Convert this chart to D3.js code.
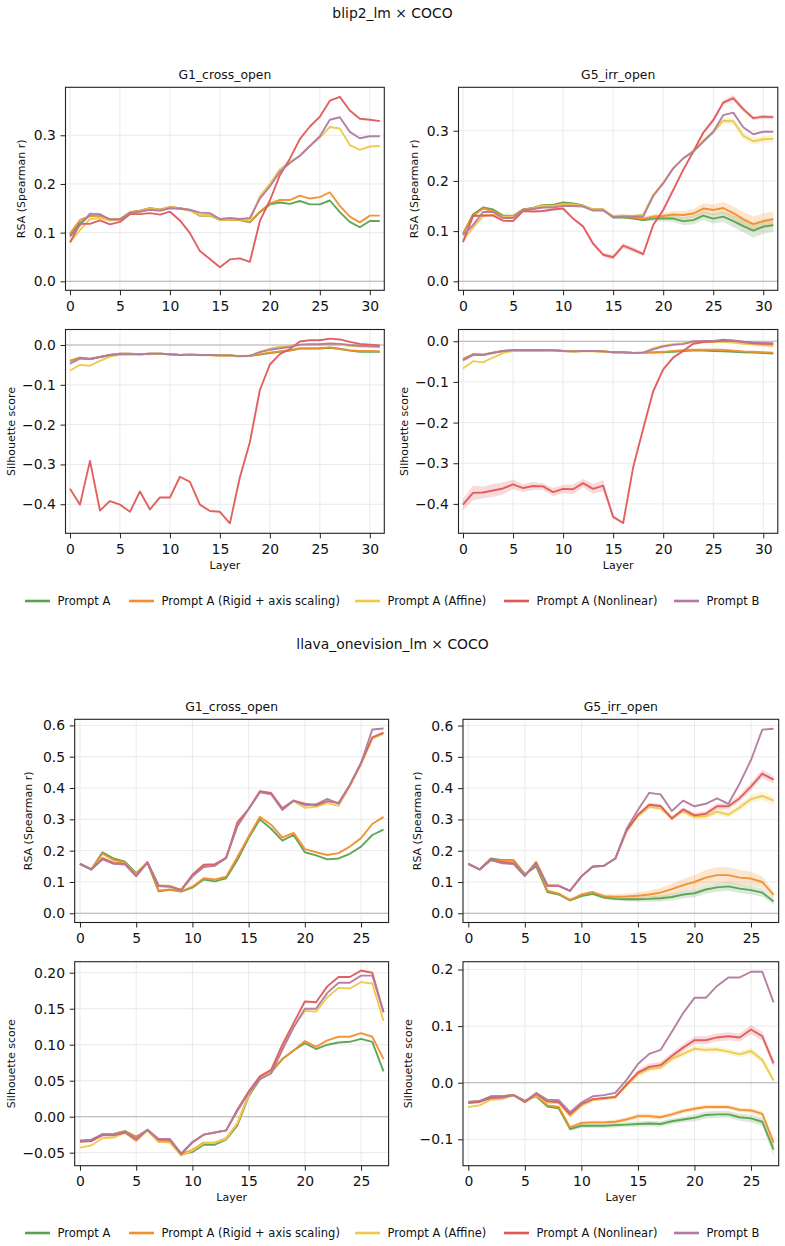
<!DOCTYPE html>
<html>
<head>
<meta charset="utf-8">
<script src="https://cdn.jsdelivr.net/npm/d3@7"></script>
<style>
  body { margin: 0; background: #fff; }
  svg text { font-family: "DejaVu Sans", sans-serif; fill: #111; }
</style>
</head>
<body>
<div id="chart"></div>
<script>
/* DATA */
const seriesNames = ["Prompt A", "Prompt A (Rigid + axis scaling)", "Prompt A (Affine)", "Prompt A (Nonlinear)", "Prompt B"];
const seriesColors = ["#59a14f", "#f28e2b", "#edc948", "#e15759", "#b07aa1"];

// blip2_lm, G1_cross_open, RSA
const blipG1RsaA      = [0.095,0.120,0.135,0.135,0.127,0.127,0.142,0.145,0.150,0.147,0.152,0.150,0.146,0.135,0.135,0.126,0.126,0.126,0.121,0.142,0.158,0.162,0.159,0.165,0.158,0.158,0.166,0.142,0.122,0.111,0.124,0.124];
const blipG1RsaRigid  = [0.098,0.126,0.134,0.135,0.127,0.128,0.142,0.145,0.150,0.147,0.153,0.150,0.146,0.135,0.136,0.127,0.126,0.127,0.122,0.143,0.160,0.167,0.167,0.176,0.170,0.173,0.183,0.155,0.133,0.121,0.135,0.135];
const blipG1RsaAffine = [0.080,0.105,0.128,0.130,0.125,0.127,0.140,0.144,0.150,0.146,0.152,0.149,0.145,0.136,0.136,0.126,0.127,0.127,0.125,0.175,0.200,0.230,0.245,0.258,0.278,0.295,0.317,0.314,0.280,0.270,0.277,0.278];
const blipG1RsaNonlin = [0.080,0.118,0.118,0.125,0.117,0.122,0.138,0.138,0.140,0.137,0.143,0.125,0.099,0.062,0.046,0.029,0.045,0.047,0.040,0.124,0.166,0.218,0.252,0.292,0.318,0.338,0.371,0.379,0.351,0.334,0.332,0.329];
const blipG1RsaB      = [0.092,0.115,0.139,0.138,0.127,0.127,0.140,0.143,0.147,0.145,0.150,0.149,0.147,0.141,0.140,0.128,0.130,0.128,0.130,0.170,0.195,0.225,0.243,0.258,0.278,0.298,0.332,0.337,0.307,0.294,0.298,0.298];

// blip2_lm, G5_irr_open, RSA
const blipG5RsaA      = [0.095,0.133,0.147,0.143,0.131,0.130,0.143,0.146,0.152,0.152,0.157,0.155,0.151,0.143,0.143,0.127,0.127,0.125,0.122,0.125,0.125,0.125,0.120,0.122,0.131,0.125,0.129,0.120,0.110,0.101,0.109,0.112];
const blipG5RsaRigid  = [0.095,0.130,0.145,0.140,0.130,0.130,0.143,0.145,0.150,0.150,0.155,0.153,0.150,0.143,0.143,0.128,0.128,0.127,0.125,0.129,0.130,0.133,0.132,0.135,0.145,0.142,0.146,0.136,0.124,0.114,0.120,0.124];
const blipG5RsaAffine = [0.082,0.107,0.130,0.133,0.128,0.128,0.141,0.145,0.151,0.150,0.153,0.153,0.150,0.143,0.143,0.130,0.131,0.130,0.133,0.172,0.197,0.225,0.245,0.260,0.280,0.297,0.320,0.319,0.290,0.279,0.283,0.284];
const blipG5RsaNonlin = [0.078,0.130,0.131,0.131,0.121,0.120,0.140,0.139,0.140,0.143,0.145,0.125,0.109,0.075,0.053,0.048,0.071,0.063,0.054,0.112,0.142,0.182,0.222,0.258,0.296,0.321,0.356,0.365,0.343,0.325,0.328,0.327];
const blipG5RsaB      = [0.092,0.112,0.138,0.138,0.126,0.126,0.142,0.144,0.147,0.147,0.150,0.150,0.149,0.141,0.141,0.128,0.129,0.129,0.129,0.170,0.195,0.225,0.245,0.258,0.278,0.298,0.331,0.336,0.307,0.293,0.298,0.298];
const blipG5RsaSdA      = [0.002,0.002,0.002,0.002,0.002,0.002,0.002,0.002,0.002,0.002,0.002,0.002,0.002,0.002,0.002,0.002,0.002,0.002,0.002,0.005,0.006,0.007,0.008,0.009,0.009,0.010,0.011,0.012,0.013,0.014,0.014,0.014];
const blipG5RsaSdRigid  = [0.002,0.002,0.002,0.002,0.002,0.002,0.002,0.002,0.002,0.002,0.002,0.002,0.002,0.002,0.002,0.002,0.002,0.002,0.002,0.005,0.006,0.007,0.008,0.009,0.010,0.011,0.012,0.013,0.014,0.015,0.015,0.015];
const blipG5RsaSdAffine = [0.002,0.002,0.002,0.002,0.002,0.002,0.002,0.002,0.002,0.002,0.002,0.002,0.002,0.002,0.002,0.002,0.002,0.002,0.002,0.002,0.002,0.002,0.002,0.002,0.004,0.005,0.006,0.007,0.007,0.007,0.007,0.007];
const blipG5RsaSdNonlin = [0.002,0.002,0.002,0.002,0.002,0.002,0.002,0.002,0.002,0.002,0.002,0.002,0.003,0.004,0.004,0.005,0.005,0.005,0.004,0.003,0.003,0.003,0.003,0.003,0.004,0.005,0.005,0.006,0.005,0.004,0.004,0.004];

// blip2_lm, G1_cross_open, silhouette
const blipG1SilA      = [-0.040,-0.032,-0.035,-0.030,-0.025,-0.022,-0.022,-0.023,-0.022,-0.022,-0.023,-0.025,-0.024,-0.025,-0.025,-0.026,-0.026,-0.028,-0.027,-0.024,-0.020,-0.017,-0.014,-0.009,-0.009,-0.009,-0.007,-0.010,-0.014,-0.017,-0.017,-0.017];
const blipG1SilRigid  = [-0.040,-0.032,-0.035,-0.030,-0.025,-0.022,-0.022,-0.023,-0.022,-0.022,-0.023,-0.025,-0.024,-0.025,-0.025,-0.026,-0.026,-0.028,-0.027,-0.023,-0.019,-0.016,-0.013,-0.008,-0.008,-0.008,-0.006,-0.009,-0.013,-0.015,-0.015,-0.016];
const blipG1SilAffine = [-0.064,-0.050,-0.052,-0.040,-0.029,-0.024,-0.023,-0.023,-0.023,-0.022,-0.023,-0.025,-0.024,-0.026,-0.026,-0.027,-0.027,-0.029,-0.028,-0.017,-0.009,-0.004,-0.002,0.000,0.001,0.001,0.002,0.001,-0.002,-0.004,-0.004,-0.005];
const blipG1SilNonlin = [-0.361,-0.401,-0.291,-0.416,-0.392,-0.401,-0.419,-0.368,-0.413,-0.383,-0.383,-0.331,-0.344,-0.401,-0.417,-0.419,-0.448,-0.332,-0.244,-0.113,-0.049,-0.023,-0.010,0.009,0.012,0.012,0.016,0.014,0.008,0.003,0.001,-0.001];
const blipG1SilB      = [-0.047,-0.034,-0.035,-0.030,-0.025,-0.023,-0.023,-0.023,-0.022,-0.022,-0.023,-0.025,-0.024,-0.025,-0.025,-0.026,-0.026,-0.028,-0.027,-0.018,-0.012,-0.008,-0.005,0.001,0.002,0.002,0.004,0.003,0.000,-0.002,-0.003,-0.004];

// blip2_lm, G5_irr_open, silhouette
const blipG5SilA      = [-0.044,-0.032,-0.033,-0.028,-0.024,-0.022,-0.022,-0.022,-0.022,-0.022,-0.024,-0.025,-0.024,-0.024,-0.025,-0.027,-0.027,-0.029,-0.028,-0.028,-0.027,-0.026,-0.024,-0.023,-0.023,-0.024,-0.025,-0.026,-0.027,-0.028,-0.029,-0.030];
const blipG5SilRigid  = [-0.044,-0.032,-0.033,-0.028,-0.024,-0.022,-0.022,-0.022,-0.022,-0.022,-0.024,-0.025,-0.024,-0.024,-0.025,-0.027,-0.027,-0.029,-0.028,-0.027,-0.026,-0.024,-0.022,-0.021,-0.021,-0.021,-0.021,-0.023,-0.025,-0.026,-0.027,-0.028];
const blipG5SilAffine = [-0.067,-0.049,-0.052,-0.040,-0.029,-0.024,-0.023,-0.023,-0.023,-0.022,-0.024,-0.025,-0.024,-0.025,-0.026,-0.027,-0.027,-0.029,-0.028,-0.017,-0.011,-0.007,-0.005,-0.002,-0.002,-0.002,-0.002,-0.003,-0.006,-0.008,-0.010,-0.012];
const blipG5SilNonlin = [-0.402,-0.373,-0.372,-0.367,-0.362,-0.352,-0.361,-0.356,-0.357,-0.371,-0.363,-0.364,-0.349,-0.363,-0.355,-0.432,-0.447,-0.310,-0.215,-0.123,-0.069,-0.040,-0.024,-0.006,-0.002,-0.001,0.002,0.001,-0.002,-0.005,-0.006,-0.007];
const blipG5SilB      = [-0.047,-0.034,-0.034,-0.029,-0.024,-0.022,-0.022,-0.022,-0.022,-0.022,-0.024,-0.025,-0.024,-0.024,-0.025,-0.027,-0.027,-0.029,-0.028,-0.020,-0.013,-0.009,-0.007,0.000,0.001,0.001,0.004,0.002,-0.001,-0.003,-0.004,-0.005];
const blipG5SilSdNonlin = [0.014,0.018,0.014,0.016,0.015,0.012,0.010,0.010,0.008,0.010,0.010,0.012,0.010,0.012,0.014,0.004,0.003,0.003,0.003,0.003,0.003,0.003,0.003,0.003,0.003,0.003,0.003,0.003,0.003,0.003,0.003,0.003];

// llava_onevision_lm, G1_cross_open, RSA
const llavaG1RsaA      = [0.158,0.140,0.195,0.175,0.165,0.128,0.162,0.070,0.075,0.069,0.082,0.108,0.102,0.112,0.170,0.240,0.300,0.270,0.232,0.250,0.195,0.185,0.172,0.175,0.190,0.213,0.250,0.267];
const llavaG1RsaRigid  = [0.158,0.140,0.190,0.170,0.162,0.125,0.163,0.073,0.076,0.070,0.085,0.112,0.108,0.117,0.180,0.245,0.308,0.283,0.242,0.257,0.205,0.195,0.186,0.192,0.213,0.240,0.285,0.308];
const llavaG1RsaAffine = [0.158,0.140,0.178,0.162,0.160,0.122,0.163,0.090,0.088,0.075,0.118,0.150,0.153,0.177,0.280,0.333,0.388,0.382,0.332,0.358,0.337,0.340,0.352,0.343,0.405,0.475,0.558,0.573];
const llavaG1RsaNonlin = [0.158,0.140,0.175,0.160,0.158,0.120,0.163,0.087,0.085,0.075,0.123,0.155,0.157,0.177,0.290,0.333,0.390,0.384,0.335,0.360,0.350,0.345,0.358,0.352,0.410,0.480,0.562,0.577];
const llavaG1RsaB      = [0.158,0.140,0.172,0.158,0.156,0.118,0.162,0.087,0.085,0.073,0.118,0.148,0.152,0.177,0.278,0.333,0.386,0.380,0.330,0.360,0.345,0.348,0.365,0.350,0.410,0.480,0.587,0.590];

// llava_onevision_lm, G5_irr_open, RSA
const llavaG5RsaA      = [0.158,0.140,0.175,0.170,0.170,0.125,0.150,0.068,0.060,0.041,0.055,0.062,0.050,0.046,0.045,0.045,0.046,0.048,0.052,0.060,0.064,0.076,0.083,0.086,0.079,0.074,0.066,0.038];
const llavaG5RsaRigid  = [0.158,0.140,0.172,0.168,0.168,0.122,0.158,0.072,0.063,0.043,0.060,0.068,0.055,0.053,0.054,0.056,0.060,0.066,0.077,0.090,0.100,0.114,0.122,0.122,0.114,0.111,0.100,0.059];
const llavaG5RsaAffine = [0.158,0.140,0.170,0.162,0.160,0.120,0.165,0.090,0.088,0.072,0.118,0.150,0.152,0.175,0.262,0.310,0.340,0.335,0.305,0.326,0.308,0.310,0.325,0.315,0.338,0.365,0.375,0.360];
const llavaG5RsaNonlin = [0.158,0.140,0.172,0.163,0.160,0.120,0.162,0.088,0.088,0.072,0.118,0.150,0.152,0.175,0.265,0.315,0.347,0.343,0.303,0.332,0.313,0.318,0.342,0.342,0.368,0.405,0.446,0.427];
const llavaG5RsaB      = [0.158,0.140,0.170,0.160,0.157,0.120,0.160,0.088,0.088,0.072,0.118,0.148,0.152,0.175,0.270,0.330,0.385,0.380,0.327,0.360,0.342,0.350,0.367,0.350,0.415,0.490,0.587,0.590];
const llavaG5RsaSdA      = [0.002,0.002,0.002,0.002,0.002,0.002,0.002,0.002,0.002,0.003,0.004,0.004,0.005,0.006,0.007,0.008,0.009,0.010,0.011,0.012,0.013,0.013,0.014,0.014,0.014,0.014,0.013,0.010];
const llavaG5RsaSdRigid  = [0.002,0.002,0.002,0.002,0.002,0.002,0.002,0.002,0.002,0.003,0.004,0.005,0.006,0.007,0.009,0.011,0.013,0.015,0.018,0.020,0.022,0.024,0.025,0.025,0.024,0.022,0.018,0.010];
const llavaG5RsaSdAffine = [0.002,0.002,0.002,0.002,0.002,0.002,0.002,0.002,0.002,0.002,0.002,0.002,0.002,0.002,0.004,0.005,0.006,0.006,0.007,0.008,0.008,0.009,0.010,0.010,0.011,0.012,0.013,0.012];
const llavaG5RsaSdNonlin = [0.002,0.002,0.002,0.002,0.002,0.002,0.002,0.002,0.002,0.002,0.002,0.002,0.002,0.002,0.004,0.005,0.006,0.006,0.007,0.007,0.008,0.009,0.010,0.010,0.011,0.012,0.013,0.012];

// llava_onevision_lm, G1_cross_open, silhouette
const llavaG1SilA      = [-0.034,-0.033,-0.024,-0.024,-0.020,-0.028,-0.019,-0.035,-0.035,-0.052,-0.049,-0.039,-0.039,-0.032,-0.012,0.028,0.052,0.062,0.080,0.092,0.102,0.094,0.100,0.103,0.104,0.108,0.104,0.063];
const llavaG1SilRigid  = [-0.034,-0.033,-0.024,-0.024,-0.020,-0.028,-0.019,-0.034,-0.034,-0.052,-0.046,-0.036,-0.036,-0.030,-0.010,0.030,0.054,0.062,0.080,0.092,0.105,0.097,0.106,0.111,0.111,0.116,0.111,0.080];
const llavaG1SilAffine = [-0.043,-0.040,-0.030,-0.029,-0.022,-0.034,-0.019,-0.035,-0.036,-0.054,-0.047,-0.037,-0.036,-0.031,-0.009,0.030,0.053,0.062,0.095,0.125,0.147,0.146,0.166,0.179,0.178,0.187,0.185,0.133];
const llavaG1SilNonlin = [-0.035,-0.034,-0.026,-0.026,-0.022,-0.032,-0.018,-0.032,-0.032,-0.052,-0.036,-0.025,-0.022,-0.019,0.010,0.035,0.056,0.065,0.100,0.130,0.160,0.159,0.181,0.194,0.194,0.203,0.200,0.145];
const llavaG1SilB      = [-0.033,-0.032,-0.025,-0.025,-0.021,-0.031,-0.018,-0.031,-0.031,-0.051,-0.035,-0.025,-0.022,-0.019,0.008,0.033,0.052,0.060,0.093,0.124,0.150,0.150,0.172,0.186,0.186,0.196,0.196,0.145];

// llava_onevision_lm, G5_irr_open, silhouette
const llavaG5SilA      = [-0.034,-0.033,-0.024,-0.024,-0.022,-0.032,-0.024,-0.042,-0.045,-0.082,-0.076,-0.076,-0.076,-0.075,-0.074,-0.073,-0.072,-0.073,-0.068,-0.065,-0.062,-0.057,-0.056,-0.056,-0.061,-0.063,-0.069,-0.118];
const llavaG5SilRigid  = [-0.034,-0.033,-0.024,-0.024,-0.022,-0.032,-0.022,-0.040,-0.043,-0.079,-0.071,-0.070,-0.070,-0.069,-0.065,-0.059,-0.059,-0.061,-0.056,-0.050,-0.046,-0.043,-0.043,-0.043,-0.048,-0.049,-0.055,-0.106];
const llavaG5SilAffine = [-0.043,-0.040,-0.030,-0.029,-0.022,-0.035,-0.022,-0.035,-0.036,-0.059,-0.041,-0.031,-0.029,-0.026,-0.005,0.015,0.025,0.027,0.042,0.051,0.060,0.058,0.059,0.055,0.050,0.056,0.040,0.004];
const llavaG5SilNonlin = [-0.036,-0.034,-0.027,-0.026,-0.022,-0.034,-0.020,-0.033,-0.034,-0.056,-0.038,-0.029,-0.027,-0.025,-0.003,0.018,0.028,0.031,0.047,0.062,0.075,0.075,0.080,0.082,0.080,0.094,0.082,0.034];
const llavaG5SilB      = [-0.034,-0.032,-0.025,-0.024,-0.022,-0.033,-0.018,-0.030,-0.031,-0.052,-0.035,-0.024,-0.022,-0.018,0.005,0.033,0.051,0.058,0.090,0.123,0.150,0.150,0.171,0.186,0.186,0.196,0.196,0.142];
const llavaG5SilSdA      = [0.001,0.001,0.001,0.001,0.001,0.001,0.001,0.001,0.001,0.003,0.004,0.004,0.004,0.004,0.004,0.005,0.005,0.005,0.005,0.005,0.006,0.006,0.006,0.006,0.006,0.007,0.007,0.012];
const llavaG5SilSdRigid  = [0.001,0.001,0.001,0.001,0.001,0.001,0.001,0.001,0.001,0.003,0.003,0.003,0.003,0.004,0.004,0.004,0.004,0.004,0.004,0.004,0.004,0.004,0.004,0.004,0.004,0.004,0.005,0.008];
const llavaG5SilSdAffine = [0.001,0.001,0.001,0.001,0.001,0.001,0.001,0.001,0.001,0.001,0.001,0.001,0.001,0.004,0.004,0.005,0.005,0.005,0.005,0.005,0.005,0.005,0.005,0.005,0.005,0.006,0.006,0.006];
const llavaG5SilSdNonlin = [0.001,0.001,0.001,0.001,0.001,0.001,0.001,0.001,0.001,0.001,0.001,0.001,0.001,0.001,0.004,0.005,0.006,0.006,0.006,0.006,0.007,0.007,0.007,0.007,0.007,0.008,0.008,0.007];

const xTicksBlip = [0, 5, 10, 15, 20, 25, 30];
const xTicksLlava = [0, 5, 10, 15, 20, 25];

/* LAYOUT */
const width = 785, height = 1246;
const svg = d3.select("#chart").append("svg")
  .attr("width", width).attr("height", height);

const figures = [
  { title: "blip2_lm × COCO", titleY: 17.5, legendY: 601 },
  { title: "llava_onevision_lm × COCO", titleY: 649, legendY: 1233 }
];

const panels = [
  { box: [65.5, 384.3, 87.3, 290.3], xdom: [-0.45, 31.45], ydom: [-0.0185, 0.3986], xt: xTicksBlip,
    yt: [0, 0.1, 0.2, 0.3], fmt: ".1f", title: "G1_cross_open", ylabel: "RSA (Spearman r)", ylabX: 24.5,
    series: [blipG1RsaA, blipG1RsaRigid, blipG1RsaAffine, blipG1RsaNonlin, blipG1RsaB] },
  { box: [458.5, 777.8, 87.3, 290.3], xdom: [-0.45, 31.45], ydom: [-0.0179, 0.3865], xt: xTicksBlip,
    yt: [0, 0.1, 0.2, 0.3], fmt: ".1f", title: "G5_irr_open", ylabel: "RSA (Spearman r)", ylabX: 417.8,
    series: [blipG5RsaA, blipG5RsaRigid, blipG5RsaAffine, blipG5RsaNonlin, blipG5RsaB],
    sd: [blipG5RsaSdA, blipG5RsaSdRigid, blipG5RsaSdAffine, blipG5RsaSdNonlin, null] },
  { box: [65.5, 384.3, 329.5, 533.3], xdom: [-0.45, 31.45], ydom: [-0.473, 0.039], xt: xTicksBlip,
    yt: [0, -0.1, -0.2, -0.3, -0.4], fmt: ".1f", ylabel: "Silhouette score", ylabX: 15, xlabel: "Layer",
    series: [blipG1SilA, blipG1SilRigid, blipG1SilAffine, blipG1SilNonlin, blipG1SilB] },
  { box: [458.5, 777.8, 329.5, 533.3], xdom: [-0.45, 31.45], ydom: [-0.4723, 0.0289], xt: xTicksBlip,
    yt: [0, -0.1, -0.2, -0.3, -0.4], fmt: ".1f", ylabel: "Silhouette score", ylabX: 408, xlabel: "Layer",
    series: [blipG5SilA, blipG5SilRigid, blipG5SilAffine, blipG5SilNonlin, blipG5SilB],
    sd: [null, null, null, blipG5SilSdNonlin, null] },
  { box: [74.7, 388.6, 719.3, 922.5], xdom: [-0.47, 27.45], ydom: [-0.0294, 0.6194], xt: xTicksLlava,
    yt: [0, 0.1, 0.2, 0.3, 0.4, 0.5, 0.6], fmt: ".1f", title: "G1_cross_open", ylabel: "RSA (Spearman r)", ylabX: 31.8,
    series: [llavaG1RsaA, llavaG1RsaRigid, llavaG1RsaAffine, llavaG1RsaNonlin, llavaG1RsaB] },
  { box: [463, 778.7, 719.3, 922.5], xdom: [-0.47, 27.45], ydom: [-0.0294, 0.620], xt: xTicksLlava,
    yt: [0, 0.1, 0.2, 0.3, 0.4, 0.5, 0.6], fmt: ".1f", title: "G5_irr_open", ylabel: "RSA (Spearman r)", ylabX: 421.2,
    series: [llavaG5RsaA, llavaG5RsaRigid, llavaG5RsaAffine, llavaG5RsaNonlin, llavaG5RsaB],
    sd: [llavaG5RsaSdA, llavaG5RsaSdRigid, llavaG5RsaSdAffine, llavaG5RsaSdNonlin, null] },
  { box: [74.7, 388.6, 961.7, 1165.7], xdom: [-0.47, 27.45], ydom: [-0.0681, 0.2153], xt: xTicksLlava,
    yt: [-0.05, 0, 0.05, 0.1, 0.15, 0.2], fmt: ".2f", ylabel: "Silhouette score", ylabX: 15, xlabel: "Layer",
    series: [llavaG1SilA, llavaG1SilRigid, llavaG1SilAffine, llavaG1SilNonlin, llavaG1SilB] },
  { box: [463, 778.7, 961.7, 1165.7], xdom: [-0.47, 27.45], ydom: [-0.1466, 0.2138], xt: xTicksLlava,
    yt: [-0.1, 0, 0.1, 0.2], fmt: ".1f", ylabel: "Silhouette score", ylabX: 412, xlabel: "Layer",
    series: [llavaG5SilA, llavaG5SilRigid, llavaG5SilAffine, llavaG5SilNonlin, llavaG5SilB],
    sd: [llavaG5SilSdA, llavaG5SilSdRigid, llavaG5SilSdAffine, llavaG5SilSdNonlin, null] }
];

// legend swatch positions
const legendX = [25, 129, 355, 504, 674];

/* TITLES + LEGENDS */
figures.forEach(f => {
  svg.append("text")
    .attr("x", 392.5).attr("y", f.titleY)
    .attr("text-anchor", "middle")
    .style("font-size", "13.9px")
    .text(f.title);

  const lg = svg.append("g");
  seriesNames.forEach((name, i) => {
    lg.append("line")
      .attr("x1", legendX[i]).attr("x2", legendX[i] + 25)
      .attr("y1", f.legendY).attr("y2", f.legendY)
      .attr("stroke", seriesColors[i]).attr("stroke-width", 2.6);
    lg.append("text")
      .attr("x", legendX[i] + 32.5).attr("y", f.legendY + 4.2)
      .style("font-size", "11.5px")
      .text(name);
  });
});

/* PANELS */
panels.forEach((p, k) => {
  const [x0, x1, y0, y1] = p.box;
  const x = d3.scaleLinear().domain(p.xdom).range([x0, x1]);
  const y = d3.scaleLinear().domain(p.ydom).range([y1, y0]);
  const g = svg.append("g");

  g.append("clipPath").attr("id", "clip" + k)
    .append("rect").attr("x", x0).attr("y", y0).attr("width", x1 - x0).attr("height", y1 - y0);

  // grid
  g.selectAll(".gx").data(p.xt).join("line")
    .attr("x1", d => x(d)).attr("x2", d => x(d)).attr("y1", y0).attr("y2", y1)
    .attr("stroke", "#e8e8e8").attr("stroke-width", 0.9);
  g.selectAll(".gy").data(p.yt).join("line")
    .attr("x1", x0).attr("x2", x1).attr("y1", d => y(d)).attr("y2", d => y(d))
    .attr("stroke", "#e8e8e8").attr("stroke-width", 0.9);

  // zero line
  g.append("line")
    .attr("x1", x0).attr("x2", x1).attr("y1", y(0)).attr("y2", y(0))
    .attr("stroke", "#b3b3b3").attr("stroke-width", 1.1);

  const plot = g.append("g").attr("clip-path", `url(#clip${k})`);

  // bands
  if (p.sd) {
    p.series.forEach((vals, i) => {
      const sd = p.sd[i];
      if (!sd) return;
      const area = d3.area()
        .x((d, j) => x(j))
        .y0((d, j) => y(d - sd[j]))
        .y1((d, j) => y(d + sd[j]));
      plot.append("path").datum(vals)
        .attr("d", area)
        .attr("fill", seriesColors[i]).attr("fill-opacity", 0.22);
    });
  }

  // lines
  const lineGen = d3.line().x((d, j) => x(j)).y(d => y(d));
  p.series.forEach((vals, i) => {
    plot.append("path").datum(vals)
      .attr("d", lineGen)
      .attr("fill", "none")
      .attr("stroke", seriesColors[i])
      .attr("stroke-width", 1.9)
      .attr("stroke-opacity", 0.95)
      .attr("stroke-linejoin", "round");
  });

  // axes
  const xAxis = g.append("g").attr("transform", `translate(0,${y1})`)
    .call(d3.axisBottom(x).tickValues(p.xt).tickSize(5).tickPadding(5.5).tickFormat(d3.format("d")));
  const yAxis = g.append("g").attr("transform", `translate(${x0},0)`)
    .call(d3.axisLeft(y).tickValues(p.yt).tickSize(5).tickPadding(4.7).tickFormat(d3.format(p.fmt)));
  [xAxis, yAxis].forEach(a => {
    a.select(".domain").remove();
    a.selectAll(".tick line").attr("stroke", "#222").attr("stroke-width", 1);
    a.selectAll(".tick text")
      .style("font-family", "DejaVu Sans, sans-serif")
      .style("font-size", "13.9px").attr("fill", "#111");
  });

  // spines
  g.append("rect")
    .attr("x", x0).attr("y", y0).attr("width", x1 - x0).attr("height", y1 - y0)
    .attr("fill", "none").attr("stroke", "#222").attr("stroke-width", 1.1);

  if (p.title) {
    g.append("text")
      .attr("x", (x0 + x1) / 2).attr("y", y0 - 8.3)
      .attr("text-anchor", "middle")
      .style("font-size", "12.4px")
      .text(p.title);
  }
  g.append("text")
    .attr("transform", `translate(${p.ylabX},${(y0 + y1) / 2}) rotate(-90)`)
    .attr("text-anchor", "middle")
    .style("font-size", "11px")
    .text(p.ylabel);
  if (p.xlabel) {
    g.append("text")
      .attr("x", (x0 + x1) / 2).attr("y", y1 + 35.7)
      .attr("text-anchor", "middle")
      .style("font-size", "11px")
      .text(p.xlabel);
  }
});
</script>
</body>
</html>
